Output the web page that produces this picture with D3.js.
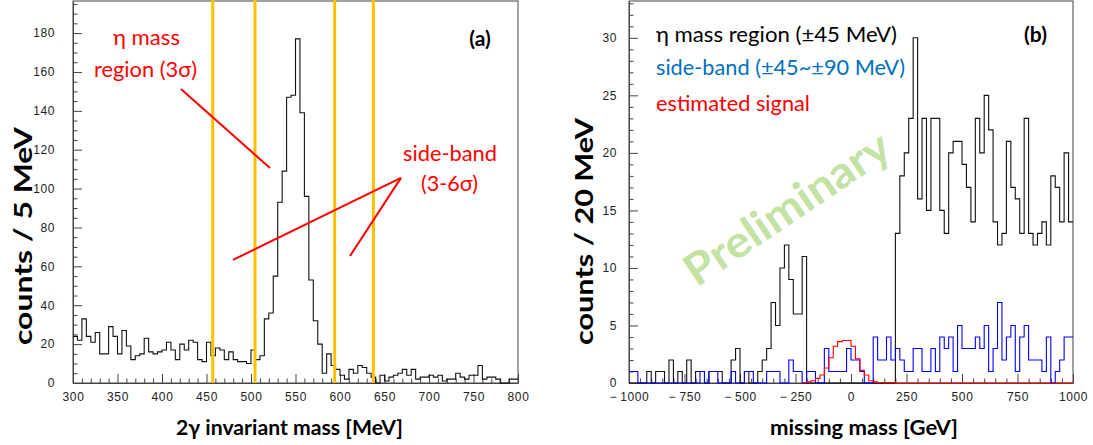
<!DOCTYPE html>
<html><head><meta charset="utf-8">
<script src="https://cdn.jsdelivr.net/npm/d3@7"></script>
<style>body{margin:0;background:#fff;} svg{display:block}</style>
</head><body><svg id="c" width="1093" height="445"></svg>
<script>
// ---------- data ----------
const leftBinStart = 300, leftBinWidth = 5;
const leftCounts = [24,22,33,24,21,26,15,15,29,24, 15,27,19,12,14,15,23,16,15,16,
  17,21,17,12,20,17,22,21,12,11, 21,14,18,17,12,16,12,11,11,10,
  17,12,14,33,36,55,93,109,147,148, 177,139,96,53,32,20,5,15,9,7,
  4,2,7,5,9,8,5,3,0,4, 1,3,4,5,7,4,7,2,3,3,
  4,3,4,1,2,2,5,3,2,4, 4,9,2,3,3,2,0,0,2,2];
const bandEdges = [457, 504.5, 594, 637.5];
const leftXTicks = [300,350,400,450,500,550,600,650,700,750,800];
const leftYTicks = [0,20,40,60,80,100,120,140,160,180];

const rightBinStart = -1000, rightBinWidth = 20;
const rightSignalRegion = [0,0,0,0,1,0,1,1,0,2, 0,1,0,2,0,1,1,0,1,1,
  1,0,0,2,3,0,1,0,0,1, 2,3,7,5,10,12,9,6,6,11,
  0,0,0,0,0,0,0,0,0,0, 0,0,0,0,0,0,0,0,0,0,
  13,18,20,23,30,16,23,15,23,23, 15,13,20,21,21,19,17,14,23,20,
  25,22,14,12,13,21,17,16,13,23, 13,12,13,14,12,18,17,14,20,14];
const rightSideBand = [1,1,0,0,0,0,0,0,0,0, 0,0,0,0,0,0,1,0,1,1,
  0,0,0,1,0,0,1,1,0,0, 0,1,1,1,0,0,2,1,1,0,
  1,1,0,0,3,1,1,1,1,3, 2,2,1,0,0,4,2,2,4,2,
  3,2,1,1,3,3,1,1,3,1, 4,3,4,1,5,3,3,3,4,3,
  5,1,3,7,2,4,5,1,4,5, 2,2,2,1,4,0,1,2,4,4];
const rightSignal = [null,null,null,null,null,null,null,null,null,null,
  null,null,null,null,null,null,null,null,null,null,
  null,null,null,null,null,null,null,null,null,null,
  null,null,null,null,null,null,null,null,null,0.05,
  0.1,0.2,0.4,0.7,1.3,2.2,3.2,3.6,3.7,3.7,
  3.2,2.1,1.1,0.7,0.2,0.1,0.05,0.05,0.03,0.02,
  0,0,0,0,0,0,0,0,0,0, 0,0,0,0,0,0,0,0,0,0,
  0,0,0,0,0,0,0,0,0,0, 0,0,0,0,0,0,0,0,0,0];
const rightXTicks = [-1000,-750,-500,-250,0,250,500,750,1000];
const rightYTicks = [0,5,10,15,20,25,30];

// ---------- drawing ----------
const svg = d3.select("#c");
const xL = d3.scaleLinear([300,800],[73,518]);
const yL = d3.scaleLinear([0,196.5],[383,1]);
const xR = d3.scaleLinear([-1000,1000],[629,1073]);
const yR = d3.scaleLinear([0,33.2],[383,1]);

const labelFont = "'Liberation Sans', Arial, sans-serif";
const annFont = "Lato, 'Open Sans', sans-serif";

function stairs(g, x, y, start, width, values, color, sw) {
  const pts = values.map((v,i)=>({e:start+i*width, v}));
  pts.push({e:start+values.length*width, v:values[values.length-1]});
  const line = d3.line().defined(d=>d.v!==null).x(d=>x(d.e)).y(d=>y(d.v)).curve(d3.curveStepAfter);
  g.append("path").attr("d", line(pts)).attr("fill","none").attr("stroke",color).attr("stroke-width",sw);
}

function axes(x, y, xt, xminor, yt, yminor, ylabPad, fmtX) {
  const g = svg.append("g");
  const [x0,x1] = x.range(), [y0,y1] = y.range();
  g.append("rect").attr("x",x0).attr("y",y1).attr("width",x1-x0).attr("height",y0-y1)
    .attr("fill","none").attr("stroke","#444").attr("stroke-width",1);
  g.append("g").attr("transform",`translate(0,${y0})`)
    .call(d3.axisBottom(x).tickValues(xt).tickSize(-9).tickSizeOuter(0).tickPadding(9).tickFormat(fmtX));
  const axm = g.append("g").attr("transform",`translate(0,${y0})`)
    .call(d3.axisBottom(x).tickValues(xminor).tickSize(-4.5).tickFormat(""));
  axm.select(".domain").remove();
  g.append("g").attr("transform",`translate(${x0},0)`)
    .call(d3.axisLeft(y).tickValues(yt).tickSize(-9).tickSizeOuter(0).tickPadding(ylabPad));
  const aym = g.append("g").attr("transform",`translate(${x0},0)`)
    .call(d3.axisLeft(y).tickValues(yminor).tickSize(-4.5).tickFormat(""));
  aym.select(".domain").remove();
  g.selectAll(".domain").attr("stroke","#444");
  g.selectAll(".tick line").attr("stroke","#444");
  g.selectAll("text").attr("font-family",labelFont).attr("font-size",12).attr("fill","#222")
    .style("letter-spacing","0.6px");
  return g;
}

// ---- left panel ----
const lMinorX = d3.range(300,801,10).filter(v=>v%50!==0);
const lMinorY = d3.range(0,196,5).filter(v=>v%20!==0);
axes(xL, yL, leftXTicks, lMinorX, leftYTicks, lMinorY, 18, d=>d);
const gl = svg.append("g");
stairs(gl, xL, yL, leftBinStart, leftBinWidth, leftCounts, "#111", 1.1);
gl.selectAll("line.band").data(bandEdges).join("line").attr("class","band")
  .attr("x1",d=>xL(d)).attr("x2",d=>xL(d)).attr("y1",0).attr("y2",383)
  .attr("stroke","#FFC000").attr("stroke-width",3);

const pointers = [[[421.3,151.2],[521.3,110.6]], [[479.8,63.3],[668.5,105.5]], [[611.2,65.3],[668.5,105.5]]];
gl.selectAll("line.ptr").data(pointers).join("line").attr("class","ptr")
  .attr("x1",d=>xL(d[0][0])).attr("y1",d=>yL(d[0][1]))
  .attr("x2",d=>xL(d[1][0])).attr("y2",d=>yL(d[1][1]))
  .attr("stroke","#FF0000").attr("stroke-width",2);

function txt(t, x, y, opts) {
  const e = svg.append("text").attr("x",x).attr("y",y).text(t)
    .attr("font-family",opts.font||annFont).attr("font-size",opts.size||22)
    .attr("fill",opts.fill||"#000").attr("font-weight",opts.weight||"normal")
    .attr("text-anchor",opts.anchor||"middle");
  if (opts.len) e.attr("textLength",opts.len).attr("lengthAdjust","spacingAndGlyphs");
  if (opts.rot!==undefined) e.attr("transform",`rotate(${opts.rot},${x},${y})`);
  if (opts.baseline) e.attr("dominant-baseline",opts.baseline);
  return e;
}
txt("η mass", 146.5, 45, {fill:"#FF0000", len:67});
txt("region (3σ)", 145.5, 77, {fill:"#FF0000", len:103});
txt("side-band", 450, 161, {fill:"#FF0000", len:94});
txt("(3-6σ)", 449.5, 191, {fill:"#FF0000", len:57});
txt("(a)", 480, 46, {weight:"bold", size:21});
txt("counts / 5 MeV", 22, 236, {weight:"bold", size:25, rot:-90, len:218, baseline:"central"});
txt("2γ invariant mass [MeV]", 289.5, 435, {weight:"bold", size:21, len:227});

// ---- right panel ----
const rMinorX = d3.range(-1000,1001,50).filter(v=>v%250!==0);
const rMinorY = d3.range(0,34,1).filter(v=>v%5!==0);
axes(xR, yR, rightXTicks, rMinorX, rightYTicks, rMinorY, 12, d=> d<0 ? "\u2212\u2009"+Math.abs(d) : d);

txt("Preliminary", 786, 207, {weight:"bold", size:44, fill:"#c3e2a4", rot:-34, len:238, baseline:"central"});

const gr = svg.append("g");
stairs(gr, xR, yR, rightBinStart, rightBinWidth, rightSignalRegion, "#111", 1.1);
stairs(gr, xR, yR, rightBinStart, rightBinWidth, rightSideBand, "#0000FF", 1.1);
stairs(gr, xR, yR, rightBinStart, rightBinWidth, rightSignal, "#FF0000", 1.1);

txt("η mass region (±45 MeV)", 656, 42, {anchor:"start", len:241});
txt("side-band (±45~±90 MeV)", 656, 75, {anchor:"start", len:249, fill:"#0070C0"});
txt("estimated signal", 656, 111, {anchor:"start", len:154, fill:"#FF0000"});
txt("(b)", 1035.5, 42, {weight:"bold", size:21});
txt("counts / 20 MeV", 583, 231.5, {weight:"bold", size:25, rot:-90, len:227, baseline:"central"});
txt("missing mass [GeV]", 864, 435, {weight:"bold", size:21, len:188});
</script></body></html>
